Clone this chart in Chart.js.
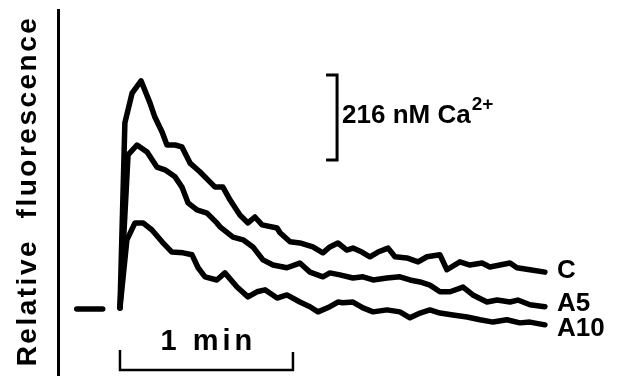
<!DOCTYPE html>
<html>
<head>
<meta charset="utf-8">
<script src="https://cdn.jsdelivr.net/npm/chart.js@4"></script>
<style>
  html, body { margin: 0; padding: 0; background: #fff; }
  #wrap { width: 619px; height: 376px; position: relative; }
</style>
</head>
<body>
<div id="wrap"><canvas id="chart"></canvas></div>
<script>
// time in seconds after stimulus, value = change in [Ca2+]i (nM) above resting level
const timeC = [0, 1.7, 4.2, 7.3, 10.4, 12.1, 14.6, 16.3, 19.1, 21.5, 24.3, 27.7, 33.0, 35.7, 38.2, 41.6, 44.4, 46.8, 49.3, 54.5, 55.5, 59.0, 62.4, 66.9, 70.4, 72.8, 75.6, 78.7, 80.8, 83.9, 86.7, 89.5, 93.0, 95.4, 99.5, 103.4, 106.5, 111.0, 113.4, 117.9, 121.4, 125.6, 128.3, 131.8, 135.3, 137.7, 142.2, 147.4];
const valueC = [0, 470, 546, 577, 521, 485, 447, 414, 414, 409, 368, 346, 307, 307, 274, 236, 216, 231, 211, 203, 191, 168, 165, 155, 140, 155, 165, 147, 152, 142, 130, 142, 152, 130, 127, 117, 130, 135, 97, 117, 109, 114, 104, 109, 114, 102, 97, 91];

const timeA5 = [0, 2.8, 5.9, 9.4, 12.8, 15.6, 19.1, 21.5, 23.6, 26.7, 30.2, 33.6, 34.7, 39.2, 42.7, 46.1, 49.6, 53.1, 57.9, 62.4, 65.9, 70.4, 72.8, 76.3, 80.8, 84.3, 87.8, 92.6, 97.1, 100.6, 104.1, 107.5, 111.0, 114.5, 119.0, 122.4, 127.3, 130.8, 135.3, 138.0, 142.2, 147.4];
const valueA5 = [0, 389, 414, 396, 358, 351, 333, 307, 267, 249, 241, 216, 206, 180, 173, 155, 122, 109, 102, 114, 91, 79, 89, 84, 76, 79, 71, 76, 79, 71, 66, 58, 41, 41, 53, 33, 15, 20, 15, 20, 8, 3];

const timeA10 = [0, 2.4, 5.2, 8.0, 11.1, 14.6, 18.0, 21.9, 25.0, 27.1, 29.5, 33.6, 36.4, 40.6, 44.4, 47.5, 50.3, 54.5, 57.9, 62.4, 65.9, 68.7, 72.8, 75.6, 77.3, 80.8, 84.3, 87.8, 92.6, 97.1, 100.6, 104.1, 107.5, 111.0, 115.5, 120.4, 124.9, 129.4, 134.2, 138.7, 142.2, 147.4];
const valueA10 = [0, 173, 216, 216, 198, 168, 142, 140, 135, 102, 79, 71, 89, 53, 28, 41, 46, 25, 33, 15, 3, -10, 3, 15, 13, 15, 0, -10, -5, -10, -25, -13, -5, -13, -18, -23, -30, -36, -30, -38, -36, -43];

// resting trace before the recorder gap
const timeRest = [-15, -6];
const valueRest = [-3, -3];

const traceLabels = ['C', 'A5', 'A10'];

// calibration bars
const caBarNm = 216;      // nM
const caBarTime = 75.3;   // s, where the bar is drawn
const caBarLow = 376;     // nM
const timeBarSec = 60;    // 1 min
const timeBarLevel = -158;

function pts(t, v) {
  return t.map((tt, i) => ({ x: tt, y: v[i] }));
}

const lineStyle = {
  borderColor: '#000',
  borderWidth: 5.5,
  pointRadius: 0,
  tension: 0,
  fill: false,
  borderJoinStyle: 'round',
  borderCapStyle: 'round'
};

const overlay = {
  id: 'overlay',
  afterDatasetsDraw(chart) {
    const { ctx, chartArea, scales: { x, y } } = chart;
    ctx.save();
    ctx.fillStyle = '#000';
    ctx.strokeStyle = '#000';

    // y axis title
    ctx.save();
    ctx.translate(chartArea.left - 30, (chartArea.top + chartArea.bottom) / 2 - 2);
    ctx.rotate(-Math.PI / 2);
    ctx.font = 'bold 28px "Liberation Sans"';
    ctx.letterSpacing = '2.5px';
    ctx.textAlign = 'center';
    ctx.textBaseline = 'middle';
    ctx.fillText('Relative  fluorescence', 0, 0);
    ctx.restore();

    // Ca2+ calibration bracket
    const bx = x.getPixelForValue(caBarTime);
    const by1 = y.getPixelForValue(caBarLow);
    const by2 = y.getPixelForValue(caBarLow + caBarNm);
    ctx.lineWidth = 3;
    ctx.beginPath();
    ctx.moveTo(bx - 11, by2);
    ctx.lineTo(bx, by2);
    ctx.lineTo(bx, by1);
    ctx.lineTo(bx - 11, by1);
    ctx.stroke();
    ctx.font = 'bold 26px "Liberation Sans"';
    ctx.textAlign = 'left';
    ctx.textBaseline = 'alphabetic';
    const base = (by1 + by2) / 2 + 6;
    const caText = caBarNm + ' nM Ca';
    ctx.fillText(caText, bx + 5, base);
    const w = ctx.measureText(caText).width;
    ctx.font = 'bold 19px "Liberation Sans"';
    ctx.fillText('2+', bx + 6 + w, base - 13);

    // time calibration bar
    const tx0 = x.getPixelForValue(0);
    const tx1 = x.getPixelForValue(timeBarSec);
    const ty = y.getPixelForValue(timeBarLevel);
    ctx.lineWidth = 2.5;
    ctx.beginPath();
    ctx.moveTo(tx0, ty - 20);
    ctx.lineTo(tx0, ty);
    ctx.lineTo(tx1, ty);
    ctx.lineTo(tx1, ty - 18);
    ctx.stroke();
    ctx.font = 'bold 29px "Liberation Sans"';
    ctx.letterSpacing = '4px';
    ctx.textAlign = 'center';
    ctx.fillText('1 min', (tx0 + tx1) / 2 + 2, ty - 20);
    ctx.letterSpacing = '0px';

    // trace labels
    const offs = [-1, -3, 4];
    ctx.font = 'bold 26px "Liberation Sans"';
    ctx.textAlign = 'left';
    ctx.textBaseline = 'middle';
    traceLabels.forEach((lab, i) => {
      const d = chart.data.datasets[i].data;
      const last = d[d.length - 1];
      ctx.fillText(lab, x.getPixelForValue(last.x) + 12, y.getPixelForValue(last.y) + offs[i]);
    });
    ctx.restore();
  }
};

new Chart(document.getElementById('chart'), {
  type: 'line',
  data: {
    datasets: [
      { label: 'C', data: pts(timeC, valueC), ...lineStyle },
      { label: 'A5', data: pts(timeA5, valueA5), ...lineStyle },
      { label: 'A10', data: pts(timeA10, valueA10), ...lineStyle },
      { label: 'rest', data: pts(timeRest, valueRest), ...lineStyle }
    ]
  },
  options: {
    responsive: true,
    maintainAspectRatio: false,
    animation: false,
    layout: { padding: { left: 58, top: 10, right: 0, bottom: 0 } },
    plugins: { legend: { display: false }, tooltip: { enabled: false } },
    scales: {
      x: { type: 'linear', min: -21.5, max: 173.1, display: false },
      y: {
        min: -173,
        max: 757,
        ticks: { display: false },
        grid: { display: false, drawTicks: false },
        border: { display: true, width: 3, color: '#000' }
      }
    }
  },
  plugins: [overlay]
});
</script>
</body>
</html>
